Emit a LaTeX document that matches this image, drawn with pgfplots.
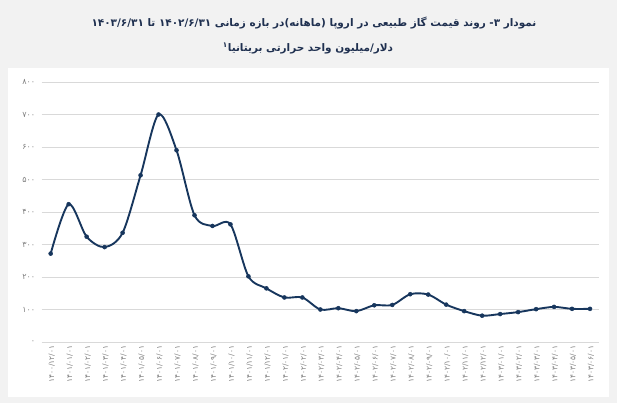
\documentclass[border=0pt]{standalone}
\usepackage{fontspec}
\usepackage{pgfplots}
\pgfplotsset{compat=1.18}
\TeXXeTstate=1
\setmainfont{DejaVu Sans}
\newfontfamily\arabicfont[Script=Arabic]{DejaVu Sans}
\definecolor{bgc}{HTML}{F2F2F2}
\definecolor{navy}{HTML}{17365D}
\definecolor{titlec}{HTML}{1F3050}
\definecolor{gridc}{HTML}{D9D9D9}
\definecolor{tickc}{HTML}{7F7F7F}

\pgfplotstableread{
x y
0 272
1 424
2 324
3 292
4 336
5 513
6 700
7 590
8 390
9 357
10 362
11 202
12 165
13 137
14 137
15 100
16 104
17 95
18 113
19 114
20 147
21 146
22 115
23 95
24 81
25 86
26 92
27 101
28 108
29 102
30 102
}\gasdata

\begin{document}
\begin{tikzpicture}
\fill[bgc] (0bp,0bp) rectangle (617bp,403bp);
\fill[white] (8bp,6bp) rectangle (609bp,335bp);
\node[font=\arabicfont\bfseries\fontsize{10.5}{12}\selectfont, text=titlec] at (314bp,380bp)
  {\beginR نمودار ۳- روند قیمت گاز طبیعی در اروپا (ماهانه)در بازه زمانی ۱۴۰۲/۶/۳۱ تا ۱۴۰۳/۶/۳۱\endR};
\node[font=\arabicfont\bfseries\fontsize{10.5}{12}\selectfont, text=titlec] at (308bp,355bp)
  {\beginR دلار/میلیون واحد حرارتی بریتانیا\textsuperscript{۱}\endR};
\begin{axis}[
  at={(41.7bp,61bp)}, anchor=south west,
  scale only axis, width=557.3bp, height=260bp,
  xmin=-0.5, xmax=30.5, ymin=0, ymax=800,
  axis line style={draw=none},
  major tick length=0pt,
  ymajorgrids, grid style={gridc, line width=0.9pt},
  ytick={0,100,...,800},
  yticklabels={۰,۱۰۰,۲۰۰,۳۰۰,۴۰۰,۵۰۰,۶۰۰,۷۰۰,۸۰۰},
  xtick={0,...,30},
  xticklabels={{۱۴۰۰/۱۲/۰۱},
    {۱۴۰۱/۰۱/۰۱},{۱۴۰۱/۰۲/۰۱},{۱۴۰۱/۰۳/۰۱},{۱۴۰۱/۰۴/۰۱},{۱۴۰۱/۰۵/۰۱},{۱۴۰۱/۰۶/۰۱},
    {۱۴۰۱/۰۷/۰۱},{۱۴۰۱/۰۸/۰۱},{۱۴۰۱/۰۹/۰۱},{۱۴۰۱/۱۰/۰۱},{۱۴۰۱/۱۱/۰۱},{۱۴۰۱/۱۲/۰۱},
    {۱۴۰۲/۰۱/۰۱},{۱۴۰۲/۰۲/۰۱},{۱۴۰۲/۰۳/۰۱},{۱۴۰۲/۰۴/۰۱},{۱۴۰۲/۰۵/۰۱},{۱۴۰۲/۰۶/۰۱},
    {۱۴۰۲/۰۷/۰۱},{۱۴۰۲/۰۸/۰۱},{۱۴۰۲/۰۹/۰۱},{۱۴۰۲/۱۰/۰۱},{۱۴۰۲/۱۱/۰۱},{۱۴۰۲/۱۲/۰۱},
    {۱۴۰۳/۰۱/۰۱},{۱۴۰۳/۰۲/۰۱},{۱۴۰۳/۰۳/۰۱},{۱۴۰۳/۰۴/۰۱},{۱۴۰۳/۰۵/۰۱},{۱۴۰۳/۰۶/۰۱}},
  y tick label style={font=\arabicfont\fontsize{8}{9}\selectfont, text=tickc, xshift=-3bp},
  x tick label style={font=\arabicfont\fontsize{7.5}{8}\selectfont, text=tickc, rotate=90, anchor=east, yshift=-1bp},
  clip=false,
]
\addplot[navy, line width=1.9pt, smooth, tension=0.5, mark=*, mark size=2pt, mark options={fill=navy, draw=navy, line width=0.5pt}] table[x=x,y=y] {\gasdata};
\end{axis}
\end{tikzpicture}
\end{document}
